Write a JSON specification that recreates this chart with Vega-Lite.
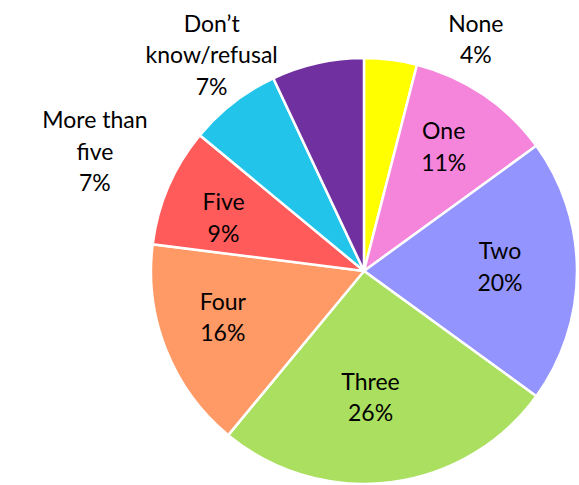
{
  "$schema": "https://vega.github.io/schema/vega-lite/v6.json",
  "width": 426,
  "height": 426,
  "autosize": "none",
  "padding": {"left": 151, "top": 58, "right": 2, "bottom": 1},
  "background": "white",
  "view": {"stroke": null},
  "config": {"text": {"font": "Lato", "fontSize": 23, "lineBreak": "\n", "lineHeight": 31.5, "baseline": "middle", "align": "center", "color": "#000"}},
  "data": {
    "values": [
      {"idx": 1, "category": "None", "display": "None", "value": 4},
      {"idx": 2, "category": "One", "display": "One", "value": 11},
      {"idx": 3, "category": "Two", "display": "Two", "value": 20},
      {"idx": 4, "category": "Three", "display": "Three", "value": 26},
      {"idx": 5, "category": "Four", "display": "Four", "value": 16},
      {"idx": 6, "category": "Five", "display": "Five", "value": 9},
      {"idx": 7, "category": "More than five", "display": "More than\nfive", "value": 7},
      {"idx": 8, "category": "Don’t know/refusal", "display": "Don’t\nknow/refusal", "value": 7}
    ]
  },
  "transform": [
    {"stack": "value", "groupby": [], "sort": [{"field": "idx", "order": "ascending"}], "as": ["v0", "v1"]},
    {"calculate": "(datum.v0 + datum.v1) / 2", "as": "mid"},
    {"calculate": "datum.display + '\\n' + datum.value + '%'", "as": "label"}
  ],
  "encoding": {
    "theta": {"field": "mid", "type": "quantitative", "scale": {"domain": [0, 100], "zero": true, "nice": false}}
  },
  "layer": [
    {
      "mark": {"type": "arc", "stroke": "white", "strokeWidth": 2.5},
      "encoding": {
        "theta": {"field": "v0", "type": "quantitative", "scale": {"domain": [0, 100], "zero": true, "nice": false}},
        "theta2": {"field": "v1"},
        "color": {
          "field": "category",
          "type": "nominal",
          "legend": null,
          "scale": {
            "domain": ["None", "One", "Two", "Three", "Four", "Five", "More than five", "Don’t know/refusal"],
            "range": ["#FFFF00", "#F585DB", "#9494FF", "#AADF60", "#FF9966", "#FF5B5B", "#22C4EA", "#7030A0"]
          }
        }
      }
    },
    {
      "transform": [{"filter": "datum.category == 'One'"}],
      "mark": {"type": "text", "radius": 140, "dx": 1, "dy": -23},
      "encoding": {"text": {"field": "label"}}
    },
    {
      "transform": [{"filter": "datum.category == 'Two'"}],
      "mark": {"type": "text", "radius": 140, "dx": -4, "dy": -19},
      "encoding": {"text": {"field": "label"}}
    },
    {
      "transform": [{"filter": "datum.category == 'Three'"}],
      "mark": {"type": "text", "radius": 140, "dx": -11, "dy": -27},
      "encoding": {"text": {"field": "label"}}
    },
    {
      "transform": [{"filter": "datum.category == 'Four'"}],
      "mark": {"type": "text", "radius": 140, "dx": -11, "dy": -20},
      "encoding": {"text": {"field": "label"}}
    },
    {
      "transform": [{"filter": "datum.category == 'Five'"}],
      "mark": {"type": "text", "radius": 140, "dx": -12, "dy": -12},
      "encoding": {"text": {"field": "label"}}
    },
    {
      "transform": [{"filter": "datum.category == 'None'"}],
      "mark": {"type": "text", "radius": 230, "dx": 83, "dy": -18},
      "encoding": {"text": {"field": "label"}}
    },
    {
      "transform": [{"filter": "datum.category == 'More than five'"}],
      "mark": {"type": "text", "radius": 240, "dx": -122, "dy": 40},
      "encoding": {"text": {"field": "label"}}
    },
    {
      "transform": [{"filter": "datum.category == 'Don’t know/refusal'"}],
      "mark": {"type": "text", "radius": 240, "dx": -100, "dy": -12},
      "encoding": {"text": {"field": "label"}}
    }
  ]
}
